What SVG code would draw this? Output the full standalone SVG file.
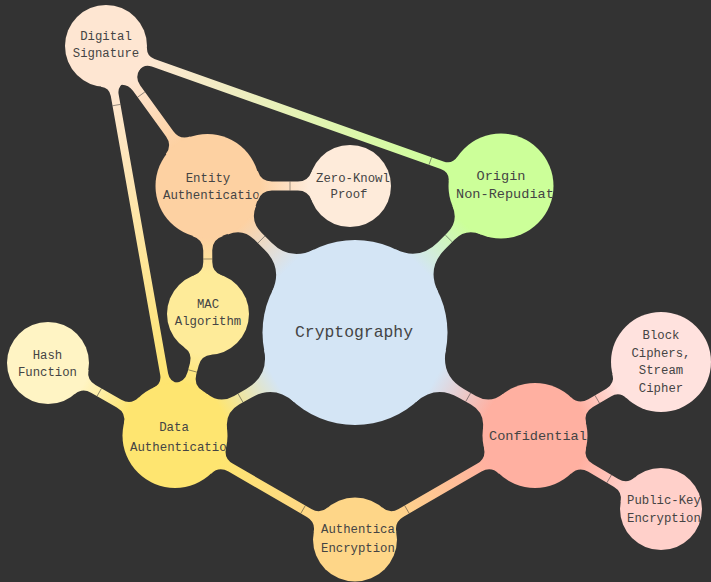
<svg xmlns="http://www.w3.org/2000/svg" width="711" height="582" viewBox="0 0 711 582">
<style>
.t{font-family:"Liberation Mono","DejaVu Sans Mono",monospace;fill:#444;}
.s2{font-size:12.3px;}
.s1{font-size:12.4px;}
.s1b{font-size:13.6px;}
.s0{font-size:16.4px;}
.tick{stroke:#333;stroke-width:0.6;opacity:0.8;}
.m{text-anchor:middle;}
</style>
<defs>
<linearGradient id="g1" gradientUnits="userSpaceOnUse" x1="92.5" y1="0" x2="154.3" y2="0"><stop offset="0" stop-color="#d4e5f5"/><stop offset="1" stop-color="#ccff99"/></linearGradient>
<linearGradient id="g2" gradientUnits="userSpaceOnUse" x1="92.5" y1="0" x2="155.9" y2="0"><stop offset="0" stop-color="#d4e5f5"/><stop offset="1" stop-color="#fdd1a2"/></linearGradient>
<linearGradient id="g3" gradientUnits="userSpaceOnUse" x1="92.5" y1="0" x2="154.9" y2="0"><stop offset="0" stop-color="#d4e5f5"/><stop offset="1" stop-color="#fee570"/></linearGradient>
<linearGradient id="g4" gradientUnits="userSpaceOnUse" x1="92.5" y1="0" x2="154.9" y2="0"><stop offset="0" stop-color="#d4e5f5"/><stop offset="1" stop-color="#ffb0a1"/></linearGradient>
<linearGradient id="g5" gradientUnits="userSpaceOnUse" x1="52" y1="0" x2="101.5" y2="0"><stop offset="0" stop-color="#fdd1a2"/><stop offset="1" stop-color="#feebda"/></linearGradient>
<linearGradient id="g6" gradientUnits="userSpaceOnUse" x1="52" y1="0" x2="131.9" y2="0"><stop offset="0" stop-color="#fdd1a2"/><stop offset="1" stop-color="#fee6d2"/></linearGradient>
<linearGradient id="g7" gradientUnits="userSpaceOnUse" x1="52" y1="0" x2="87" y2="0"><stop offset="0" stop-color="#fdd1a2"/><stop offset="1" stop-color="#feeb99"/></linearGradient>
<linearGradient id="g8" gradientUnits="userSpaceOnUse" x1="52.5" y1="0" x2="84.9" y2="0"><stop offset="0" stop-color="#fee570"/><stop offset="1" stop-color="#feeb99"/></linearGradient>
<linearGradient id="g9" gradientUnits="userSpaceOnUse" x1="52.5" y1="0" x2="105.2" y2="0"><stop offset="0" stop-color="#fee570"/><stop offset="1" stop-color="#fff4c4"/></linearGradient>
<linearGradient id="g10" gradientUnits="userSpaceOnUse" x1="52.5" y1="0" x2="165.9" y2="0"><stop offset="0" stop-color="#fee570"/><stop offset="1" stop-color="#fed688"/></linearGradient>
<linearGradient id="g11" gradientUnits="userSpaceOnUse" x1="52.5" y1="0" x2="165.9" y2="0"><stop offset="0" stop-color="#ffb0a1"/><stop offset="1" stop-color="#fed688"/></linearGradient>
<linearGradient id="g12" gradientUnits="userSpaceOnUse" x1="52.5" y1="0" x2="95.9" y2="0"><stop offset="0" stop-color="#ffb0a1"/><stop offset="1" stop-color="#ffe2de"/></linearGradient>
<linearGradient id="g13" gradientUnits="userSpaceOnUse" x1="52.5" y1="0" x2="104.9" y2="0"><stop offset="0" stop-color="#ffb0a1"/><stop offset="1" stop-color="#ffd0ca"/></linearGradient>
<linearGradient id="g14" gradientUnits="userSpaceOnUse" x1="41" y1="0" x2="366.6" y2="0"><stop offset="0" stop-color="#fee6d2"/><stop offset="1" stop-color="#ccff99"/></linearGradient>
<linearGradient id="g15" gradientUnits="userSpaceOnUse" x1="41" y1="0" x2="343.1" y2="0"><stop offset="0" stop-color="#fee6d2"/><stop offset="1" stop-color="#fee570"/></linearGradient>
<clipPath id="cDS"><circle cx="106" cy="46" r="41"/></clipPath>
<clipPath id="cE"><circle cx="207.5" cy="186" r="52"/></clipPath>
<clipPath id="cZ"><circle cx="350" cy="186" r="41"/></clipPath>
<clipPath id="cO"><circle cx="501" cy="186" r="52.5"/></clipPath>
<clipPath id="cM"><circle cx="208" cy="314" r="41"/></clipPath>
<clipPath id="cH"><circle cx="48" cy="363" r="41"/></clipPath>
<clipPath id="cD"><circle cx="175" cy="435.5" r="52.5"/></clipPath>
<clipPath id="cC"><circle cx="355" cy="332.5" r="92.5"/></clipPath>
<clipPath id="cF"><circle cx="535" cy="435.5" r="52.5"/></clipPath>
<clipPath id="cB"><circle cx="661" cy="362" r="50"/></clipPath>
<clipPath id="cP"><circle cx="661" cy="509" r="41"/></clipPath>
<clipPath id="cA"><circle cx="355" cy="539.5" r="42"/></clipPath>
</defs>
<rect width="711" height="582" fill="#333333"/>
<g id="connectors">
<g transform="translate(355,332.5) rotate(-45.1)"><path fill="url(#g1)" d="M0,0 L87.5,-30 Q96.07,-5 122.5,-5 L135.86,-5 Q152.08,-5 158.26,-20 L206.8,0 L158.26,20 Q152.08,5 135.86,5 L122.5,5 Q96.07,5 87.5,30Z"/><line class="tick" x1="132.8" y1="-5" x2="132.8" y2="5"/></g>
<g transform="translate(355,332.5) rotate(-135.2)"><path fill="url(#g2)" d="M0,0 L87.5,-30 Q96.07,-5 122.5,-5 L136.96,-5 Q153.18,-5 159.36,-20 L207.9,0 L159.36,20 Q153.18,5 136.96,5 L122.5,5 Q96.07,5 87.5,30Z"/><line class="tick" x1="131.9" y1="-5" x2="131.9" y2="5"/></g>
<g transform="translate(355,332.5) rotate(150.22)"><path fill="url(#g3)" d="M0,0 L87.5,-30 Q96.07,-5 122.5,-5 L136.46,-5 Q152.68,-5 158.86,-20 L207.4,0 L158.86,20 Q152.68,5 136.46,5 L122.5,5 Q96.07,5 87.5,30Z"/><line class="tick" x1="131.9" y1="-5" x2="131.9" y2="5"/></g>
<g transform="translate(355,332.5) rotate(29.78)"><path fill="url(#g4)" d="M0,0 L87.5,-30 Q96.07,-5 122.5,-5 L136.46,-5 Q152.68,-5 158.86,-20 L207.4,0 L158.86,20 Q152.68,5 136.46,5 L122.5,5 Q96.07,5 87.5,30Z"/><line class="tick" x1="130.4" y1="-5" x2="130.4" y2="5"/></g>
<g transform="translate(207.5,186)"><path fill="url(#g5)" d="M0,0 L50.31,-15 Q53.44,-4.5 64.4,-4.5 L90.4,-4.5 Q100.51,-4.5 103.96,-14 L142.5,0 L103.96,14 Q100.51,4.5 90.4,4.5 L64.4,4.5 Q53.44,4.5 50.31,15Z"/><line class="tick" x1="82.5" y1="-4.5" x2="82.5" y2="4.5"/></g>
<g transform="translate(207.5,186) rotate(-125.94)"><path fill="url(#g6)" d="M0,0 L50.31,-15 Q53.44,-4.5 64.4,-4.5 L120.8,-4.5 Q130.91,-4.5 134.36,-14 L172.9,0 L134.36,14 Q130.91,4.5 120.8,4.5 L64.4,4.5 Q53.44,4.5 50.31,15Z"/><line class="tick" x1="112.9" y1="-4.5" x2="112.9" y2="4.5"/></g>
<g transform="translate(207.5,186) rotate(89.78)"><path fill="url(#g7)" d="M0,0 L50.31,-15 Q53.44,-4.5 64.4,-4.5 L75.9,-4.5 Q86.01,-4.5 89.46,-14 L128,0 L89.46,14 Q86.01,4.5 75.9,4.5 L64.4,4.5 Q53.44,4.5 50.31,15Z"/><line class="tick" x1="73" y1="-4.5" x2="73" y2="4.5"/></g>
<g transform="translate(175,435.5) rotate(-74.8)"><path fill="url(#g8)" d="M0,0 L50.31,-15 Q53.44,-4.5 64.4,-4.5 L73.8,-4.5 Q83.91,-4.5 87.36,-14 L125.9,0 L87.36,14 Q83.91,4.5 73.8,4.5 L64.4,4.5 Q53.44,4.5 50.31,15Z"/><line class="tick" x1="66.9" y1="-4.5" x2="66.9" y2="4.5"/></g>
<g transform="translate(175,435.5) rotate(-150.28)"><path fill="url(#g9)" d="M0,0 L50.31,-15 Q53.44,-4.5 64.4,-4.5 L94.1,-4.5 Q104.21,-4.5 107.66,-14 L146.2,0 L107.66,14 Q104.21,4.5 94.1,4.5 L64.4,4.5 Q53.44,4.5 50.31,15Z"/><line class="tick" x1="87.2" y1="-4.5" x2="87.2" y2="4.5"/></g>
<g transform="translate(175,435.5) rotate(30.02)"><path fill="url(#g10)" d="M0,0 L50.31,-15 Q53.44,-4.5 64.4,-4.5 L154.9,-4.5 Q164.94,-4.5 168.3,-14 L207.9,0 L168.3,14 Q164.94,4.5 154.9,4.5 L64.4,4.5 Q53.44,4.5 50.31,15Z"/><line class="tick" x1="147.9" y1="-4.5" x2="147.9" y2="4.5"/></g>
<g transform="translate(535,435.5) rotate(149.98)"><path fill="url(#g11)" d="M0,0 L50.31,-15 Q53.44,-4.5 64.4,-4.5 L154.9,-4.5 Q164.94,-4.5 168.3,-14 L207.9,0 L168.3,14 Q164.94,4.5 154.9,4.5 L64.4,4.5 Q53.44,4.5 50.31,15Z"/><line class="tick" x1="147.9" y1="-4.5" x2="147.9" y2="4.5"/></g>
<g transform="translate(535,435.5) rotate(-30.26)"><path fill="url(#g12)" d="M0,0 L50.31,-15 Q53.44,-4.5 64.4,-4.5 L85.23,-4.5 Q95.13,-4.5 97.9,-14 L145.9,0 L97.9,14 Q95.13,4.5 85.23,4.5 L64.4,4.5 Q53.44,4.5 50.31,15Z"/><line class="tick" x1="72" y1="-4.5" x2="72" y2="4.5"/></g>
<g transform="translate(535,435.5) rotate(30.26)"><path fill="url(#g13)" d="M0,0 L50.31,-15 Q53.44,-4.5 64.4,-4.5 L93.8,-4.5 Q103.91,-4.5 107.36,-14 L145.9,0 L107.36,14 Q103.91,4.5 93.8,4.5 L64.4,4.5 Q53.44,4.5 50.31,15Z"/><line class="tick" x1="85.9" y1="-4.5" x2="85.9" y2="4.5"/></g>
<g transform="translate(106,46) rotate(19.52)"><path fill="url(#g14)" d="M0,0 L39.2,-12 Q41.65,-4 50,-4 L356.6,-4 Q365.93,-4 368.23,-13 L419.1,0 L368.23,13 Q365.93,4 356.6,4 L50,4 Q41.65,4 39.2,12Z"/><line class="tick" x1="344.1" y1="-4" x2="344.1" y2="4"/></g>
<g transform="translate(106,46) rotate(79.95)"><path fill="url(#g15)" d="M0,0 L39.2,-12 Q41.65,-4 50,-4 L333.1,-4 Q342.43,-4 344.73,-13 L395.6,0 L344.73,13 Q342.43,4 333.1,4 L50,4 Q41.65,4 39.2,12Z"/><line class="tick" x1="60" y1="-4" x2="60" y2="4"/></g>
</g>
<g id="node-cryptography"><circle cx="355" cy="332.5" r="92.5" fill="#d4e5f5"/><g clip-path="url(#cC)"><text class="t s0 m" x="354" y="337">Cryptography</text></g></g>
<g id="node-origin"><circle cx="501" cy="186" r="52.5" fill="#ccff99"/><g clip-path="url(#cO)"><text class="t s1b m" x="501" y="180">Origin</text><text class="t s1b" x="456" y="198">Non-Repudiation</text></g></g>
<g id="node-entity"><circle cx="207.5" cy="186" r="52" fill="#fdd1a2"/><g clip-path="url(#cE)"><text class="t s1 m" x="208" y="182">Entity</text><text class="t s1" x="163" y="199">Authentication</text></g></g>
<g id="node-zero-knowledge"><circle cx="350" cy="186" r="41" fill="#feebda"/><g clip-path="url(#cZ)"><text class="t s2" x="316" y="182">Zero-Knowledge</text><text class="t s2 m" x="349" y="198">Proof</text></g></g>
<g id="node-digital-signature"><circle cx="106" cy="46" r="41" fill="#fee6d2"/><g clip-path="url(#cDS)"><text class="t s2 m" x="106" y="40">Digital</text><text class="t s2 m" x="106" y="57">Signature</text></g></g>
<g id="node-mac"><circle cx="208" cy="314" r="41" fill="#feeb99"/><g clip-path="url(#cM)"><text class="t s2 m" x="208" y="308">MAC</text><text class="t s2 m" x="208" y="325">Algorithm</text></g></g>
<g id="node-hash"><circle cx="48" cy="363" r="41" fill="#fff4c4"/><g clip-path="url(#cH)"><text class="t s2 m" x="47.5" y="359">Hash</text><text class="t s2 m" x="47.5" y="376">Function</text></g></g>
<g id="node-data-auth"><circle cx="175" cy="435.5" r="52.5" fill="#fee570"/><g clip-path="url(#cD)"><text class="t s1 m" x="174" y="431">Data</text><text class="t s1" x="130" y="451">Authentication</text></g></g>
<g id="node-confidentiality"><circle cx="535" cy="435.5" r="52.5" fill="#ffb0a1"/><g clip-path="url(#cF)"><text class="t s1b" x="489" y="440">Confidentiality</text></g></g>
<g id="node-block"><circle cx="661" cy="362" r="50" fill="#ffe2de"/><g clip-path="url(#cB)"><text class="t s2 m" x="661" y="339">Block</text><text class="t s2 m" x="661" y="357">Ciphers,</text><text class="t s2 m" x="661" y="374">Stream</text><text class="t s2 m" x="661" y="392">Cipher</text></g></g>
<g id="node-public-key"><circle cx="661" cy="509" r="41" fill="#ffd0ca"/><g clip-path="url(#cP)"><text class="t s2" x="627" y="504">Public-Key</text><text class="t s2" x="627" y="522">Encryption</text></g></g>
<g id="node-auth-enc"><circle cx="355" cy="539.5" r="42" fill="#fed688"/><g clip-path="url(#cA)"><text class="t s2" x="321" y="533">Authenticated</text><text class="t s2" x="321" y="552">Encryption</text></g></g>
</svg>
